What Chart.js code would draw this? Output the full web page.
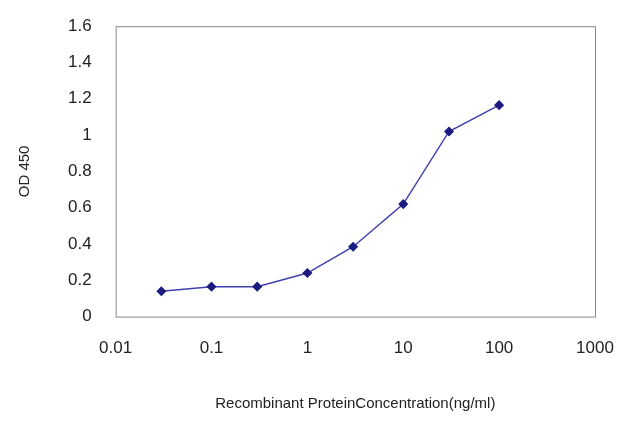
<!DOCTYPE html>
<html>
<head>
<meta charset="utf-8">
<script src="https://cdn.jsdelivr.net/npm/chart.js@4"></script>
<style>
  html, body { margin: 0; padding: 0; background: #fff; }
  #wrap { width: 640px; height: 427px; }
</style>
</head>
<body>
<div id="wrap"><canvas id="chart"></canvas></div>
<script>
const concentrations = [0.03, 0.1, 0.3, 1, 3, 10, 30, 100];
const odValues = [0.14, 0.165, 0.165, 0.24, 0.385, 0.62, 1.02, 1.165];
const xTicks = [0.01, 0.1, 1, 10, 100, 1000];
const xTickLabels = ['0.01', '0.1', '1', '10', '100', '1000'];

// draws the box around the plot area
const frame = {
  id: 'frame',
  afterDraw(chart) {
    const { ctx, chartArea: a } = chart;
    ctx.save();
    ctx.strokeStyle = '#888';
    ctx.lineWidth = 1;
    ctx.strokeRect(a.left + 0.5, a.top + 0.5, a.right - a.left, a.bottom - a.top);
    ctx.restore();
  }
};

new Chart(document.getElementById('chart'), {
  type: 'line',
  data: {
    datasets: [{
      data: concentrations.map((c, i) => ({ x: c, y: odValues[i] })),
      borderColor: '#4040b0',
      borderWidth: 1.5,
      backgroundColor: '#1c1c80',
      pointStyle: 'rectRot',
      pointRadius: 4,
      pointBorderColor: '#1c1c80',
      tension: 0
    }]
  },
  options: {
    responsive: true,
    maintainAspectRatio: false,
    animation: false,
    layout: { padding: { top: 24, right: 45, left: 12, bottom: 10 } },
    plugins: { legend: { display: false }, tooltip: { enabled: false } },
    scales: {
      x: {
        type: 'logarithmic',
        min: 0.01,
        max: 1000,
        afterBuildTicks: axis => { axis.ticks = xTicks.map(v => ({ value: v })); },
        ticks: {
          callback: (v) => xTickLabels[xTicks.indexOf(v)] ?? '',
          color: '#222',
          font: { family: 'Liberation Sans', size: 17 },
          padding: 14,
          maxRotation: 0
        },
        grid: { display: false },
        border: { display: false },
        title: {
          display: true,
          text: 'Recombinant ProteinConcentration(ng/ml)',
          color: '#222',
          font: { family: 'Liberation Sans', size: 15 },
          padding: { top: 22 }
        }
      },
      y: {
        min: 0,
        max: 1.6,
        ticks: {
          stepSize: 0.2,
          callback: v => Math.round(v * 10) / 10,
          color: '#222',
          font: { family: 'Liberation Sans', size: 17 },
          padding: 16
        },
        grid: { display: false },
        border: { display: false },
        title: {
          display: true,
          text: 'OD 450',
          color: '#222',
          font: { family: 'Liberation Sans', size: 15 },
          padding: { bottom: 18 }
        }
      }
    }
  },
  plugins: [frame]
});
</script>
</body>
</html>
